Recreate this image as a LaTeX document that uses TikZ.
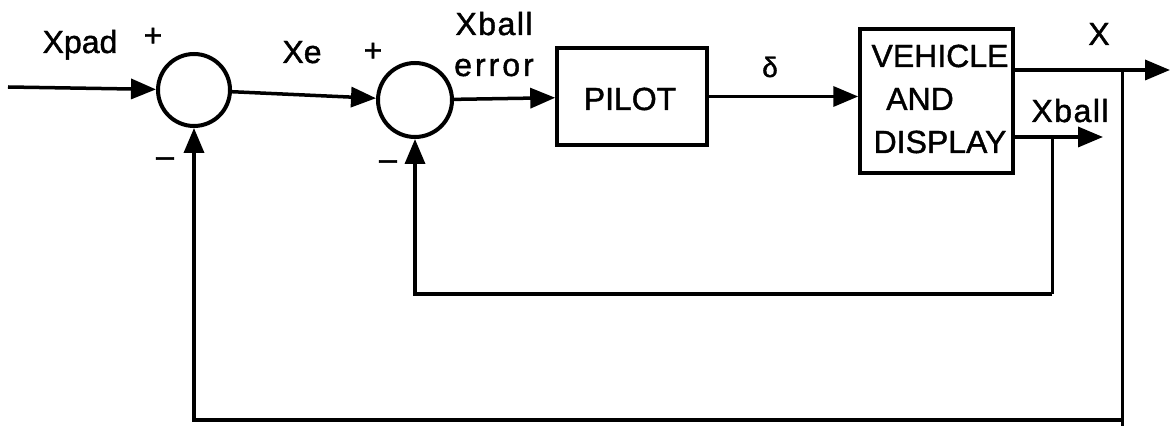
\documentclass[tikz,border=0pt]{standalone}
\usepackage{fontspec}
\setmainfont{Liberation Sans}[FakeBold=1.3]
\usetikzlibrary{arrows.meta}
\begin{document}
\begin{tikzpicture}[x=1pt,y=-1pt,
  lbl/.style={font=\fontsize{32}{38}\selectfont, inner sep=0pt},
  sumnode/.style={circle, draw, line width=4pt, inner sep=0pt},
  blk/.style={rectangle, draw, line width=3.5pt, inner sep=0pt},
  sig/.style={line width=3.5pt, -{Triangle[length=25pt,width=20pt]}},
  wire/.style={line width=3pt}]
\useasboundingbox (0,0) rectangle (1171,427);
% blocks
\node[sumnode, minimum size=72pt] (s1) at (194,90) {};
\node[sumnode, minimum size=74pt] (s2) at (415,100) {};
\node[blk, minimum width=150pt, minimum height=97pt] (pilot) at (632,96.5) {};
\node[blk, minimum width=153pt, minimum height=144pt] (veh) at (936.5,101) {};
% block texts
\node[lbl, anchor=base] (tpilot) at (630,110) {PILOT};
\node[lbl, anchor=base] (tveh) at (940,67) {VEHICLE};
\node[lbl, anchor=base] (tand) at (920,110) {AND};
\node[lbl, anchor=base] (tdisp) at (940,153) {DISPLAY};
% coordinates
\coordinate (in) at (8,87);
\coordinate (xo) at (1170,70);
\coordinate (xbo) at (1103,137);
\coordinate (xt) at (1122,70);
\coordinate (xend) at (1122,426);
\coordinate (b1) at (1122,420);
\coordinate (xbt) at (1052,137);
\coordinate (b2) at (1052,294);
% signals
\draw[sig] (in) -- (s1);
\draw[sig] (s1) -- (s2);
\draw[sig] (s2) -- (pilot);
\draw[sig] (pilot.east) -- (pilot.east -| veh.west);
\draw[sig] (veh.east |- xo) -- (xo);
\draw[sig] (veh.east |- xbo) -- (xbo);
% feedback loops
\draw[wire] (xt) -- (xend);
\draw[sig] (b1) -- (s1.south |- b1) -- (s1.south);
\draw[wire] (xbt) -- (b2);
\draw[sig] (b2) -- (s2.south |- b2) -- (s2.south);
% labels
\node[lbl, anchor=base] (lxpad) at (80,53) {Xpad};
\node[lbl] (lp1) at (153,37) {+};
\node[lbl, anchor=base] (lxe) at (302,63) {Xe};
\node[lbl] (lp2) at (373,52) {+};
\node[lbl, anchor=base] (lxb1) at (494,35) {X\kern1.5pt b\kern1.5pt a\kern1.5pt l\kern1.5pt l};
\node[lbl, anchor=base] (lerr) at (494,76) {e\kern3pt r\kern3pt r\kern3pt o\kern3pt r};
\node[lbl, font=\fontsize{28}{32}\selectfont] (ld) at (770,67) {δ};
\node[lbl, anchor=base] (lx) at (1099,45) {X};
\node[lbl, anchor=base] (lxb2) at (1070,122) {X\kern1.5pt b\kern1.5pt a\kern1.5pt l\kern1.5pt l};
\node[lbl] (lm1) at (165,162) {–};
\node[lbl] (lm2) at (388,165) {–};
\end{tikzpicture}
\end{document}
